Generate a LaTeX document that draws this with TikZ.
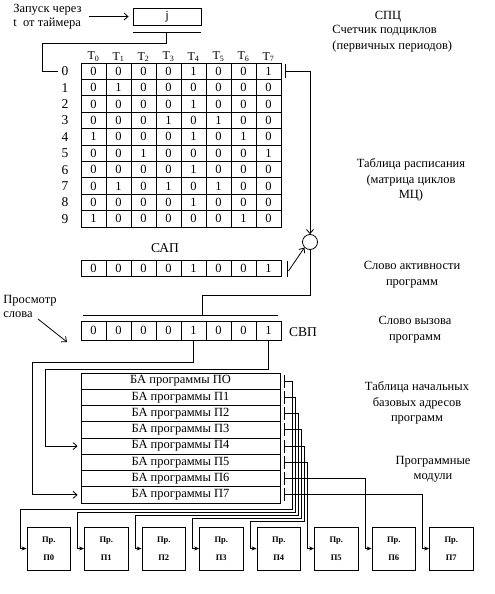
\documentclass[tikz,border=0pt]{standalone}
\usepackage{fontspec}
\setmainfont{Liberation Serif}
\usetikzlibrary{arrows.meta,positioning,calc}

\begin{document}
\begin{tikzpicture}[x=1pt, y=-1pt, line width=0.8pt,
    every node/.style={font=\fontsize{12.5}{15.5}\selectfont},
    cell/.style={draw, minimum width=25pt, minimum height=16.4pt, inner sep=0pt,
      font=\fontsize{12.5}{13}\selectfont},
    note/.style={align=center, inner sep=0pt},
    barb/.style={-{Straight Barb[length=4pt,width=7pt]}},
    feed/.style={-{Stealth[length=5pt,width=4pt]}},
    module/.style={draw, minimum width=43.5pt, minimum height=43pt, inner sep=0pt,
      align=center, font=\fontsize{8.5}{18}\selectfont\bfseries}
  ]
  \useasboundingbox (0,0) rectangle (495,594);

  \node[align=left, anchor=north west, inner sep=0pt,
    font=\fontsize{12.5}{13.5}\selectfont] (launch) at (13,4) {Запуск через\\t~ от таймера};
  \node[draw, minimum width=68pt, minimum height=17pt, inner sep=0pt] (j) at (167,16.5) {j};
  \draw[barb, shorten <=7pt, shorten >=4pt] (launch.east |- j.west) -- (j.west);
  \draw (133,32) -- (201,32);
  \coordinate (jbar) at (166,32);
  \coordinate (jturn) at (42,43);

  \foreach \c in {0,...,7}
    \node[font=\fontsize{12}{13}\selectfont] (t\c) at (93.5+25*\c,57) {T\textsubscript{\c}};
  \foreach \row [count=\r from 0] in {{0,0,0,0,1,0,0,1},{0,1,0,0,0,0,0,0},
      {0,0,0,0,1,0,0,0},{0,0,0,1,0,1,0,0},{1,0,0,0,1,0,1,0},{0,0,1,0,0,0,0,1},
      {0,0,0,0,1,0,0,0},{0,1,0,1,0,1,0,0},{0,0,0,0,1,0,0,0},{1,0,0,0,0,0,1,0}} {
    \node[font=\fontsize{13.5}{14}\selectfont] (r\r) at (65,71.2+16.4*\r) {\r};
    \foreach \v [count=\c from 0] in \row
      \node[cell] (m-\r-\c) at (93.5+25*\c,71.2+16.4*\r) {\v};
  }
  \draw (jbar) |- (jturn) |- (r0.west);

  \node (spc) at (388,17) {СПЦ};
  \node[align=left, anchor=north west, inner sep=0pt] (spcnote) at (332,25)
    {Счетчик подциклов\\(первичных периодов)};
  \node[note] (sched) at (411,180) {Таблица расписания\\(матрица циклов\\МЦ)};

  \node[font=\fontsize{13.5}{14}\selectfont] (sap) at (165,248) {САП};
  \foreach \v [count=\c from 0] in {0,0,0,0,1,0,0,1}
    \node[cell, minimum height=16pt] (a-\c) at (93.5+25*\c,268.5) {\v};
  \node[note] (sapnote) at (412,274.5) {Слово активности\\программ};

  \node[draw, circle, minimum size=15pt, inner sep=0pt] (sum) at (310,242) {};
  \draw (285,64.5) -- (285,78);
  \coordinate (mt) at (285,71.2);
  \draw[barb] (mt) -| (sum.north);
  \draw (287,261) -- (287,277);
  \coordinate (at) at (288.5,271);
  \draw[barb] (at) -- (sum.south west);

  \draw (83,315) -- (278,315);
  \coordinate (bar) at (202,315);
  \coordinate (turn) at (202,295);
  \draw (sum.south) |- (turn) -- (bar);

  \node[align=left, anchor=north west, inner sep=0pt,
    font=\fontsize{12.5}{13.5}\selectfont] (view) at (3,295) {Просмотр\\слова};
  \coordinate (vtail) at (38,319);
  \coordinate (vtip) at (67,342);
  \draw[barb] (vtail) -- (vtip);
  \foreach \v [count=\c from 0] in {0,0,0,0,1,0,0,1}
    \node[cell, minimum height=19pt] (s-\c) at (93.5+25*\c,330.5) {\v};
  \node[font=\fontsize{13.5}{14}\selectfont] (svp) at (303,332) {СВП};
  \node[note] (svpnote) at (415,329.5) {Слово вызова\\программ};

  \foreach \p [count=\i from 0] in {О,1,2,3,4,5,6,7} {
    \node[draw, minimum width=199pt, minimum height=16.25pt, inner sep=0pt,
      font=\fontsize{12.5}{13}\selectfont] (ba-\i) at (180.5,381.1+16.25*\i) {БА программы П\p};
    \draw (284,374.5+16.25*\i) -- (284,387.5+16.25*\i);
    \coordinate (bt-\i) at (284,381.1+16.25*\i);
  }
  \node[note] (banote) at (417,403) {Таблица начальных\\базовых адресов\\программ};
  \draw[barb, shorten >=3pt] (s-4.south) |- (32,362) |- (ba-7.west);
  \draw[barb, shorten >=3pt] (s-7.south) |- (45,369) |- (ba-4.west);

  \node[note] (modnote) at (433,469.5) {Программные\\модули};
  \foreach \i in {0,...,7} {
    \node[module] (mod-\i) at (48.75+57.5*\i,548.5) {Пр.\\П\i};
    \coordinate (drop-\i) at (20+57.5*\i,548.5);
  }
  \foreach \i in {0,...,4}
    \draw[feed] (bt-\i) -| (292+3*\i,509+3*\i) -| (drop-\i) -- (mod-\i.west);
  \foreach \i in {5,6,7}
    \draw[feed] (bt-\i) -| (drop-\i) -- (mod-\i.west);
\end{tikzpicture}
\end{document}
